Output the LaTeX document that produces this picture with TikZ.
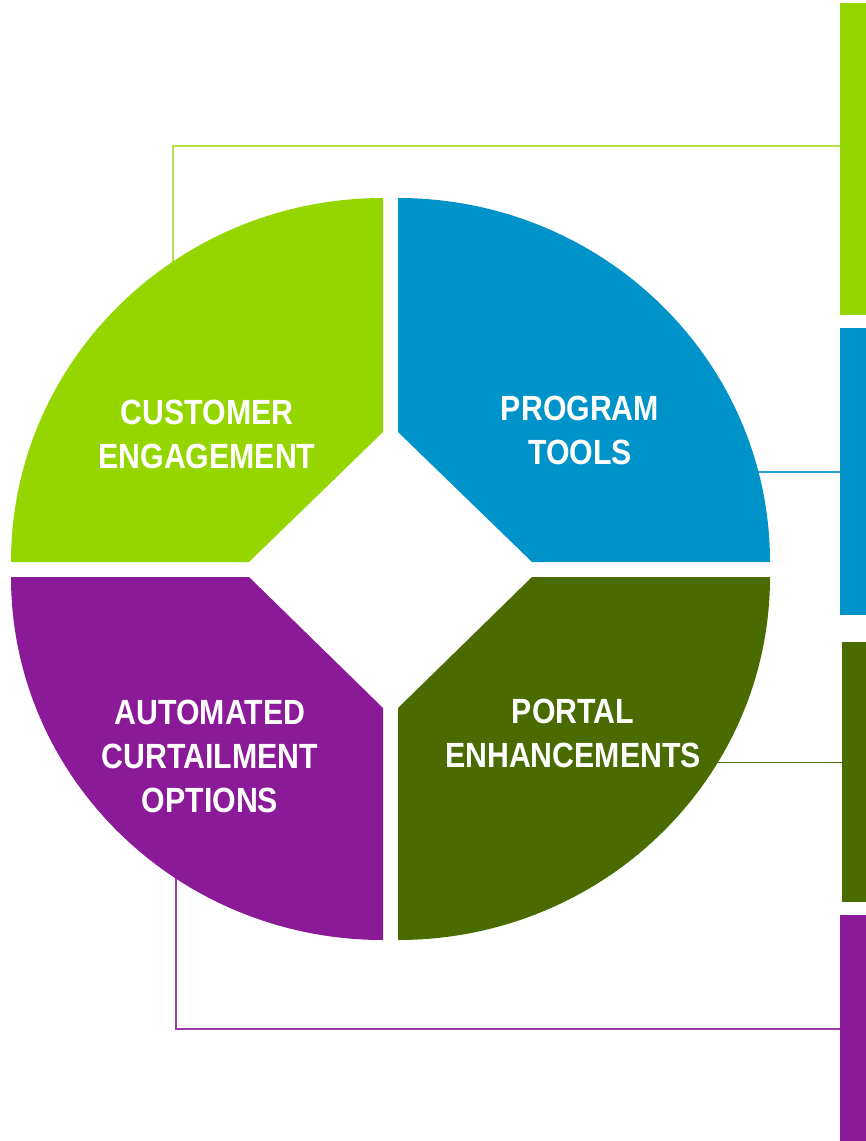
\documentclass[tikz,border=0pt]{standalone}
\usepackage{fontspec}
\newfontfamily\labelfont[FakeStretch=0.865]{Liberation Sans}
\definecolor{lime}{HTML}{96D600}
\definecolor{sky}{HTML}{0093C9}
\definecolor{olive}{HTML}{4A6B00}
\definecolor{plum}{HTML}{8B1A98}
\begin{document}
\begin{tikzpicture}[x=1pt,y=-1pt,
  quadlabel/.style={text=white,align=center,anchor=base,inner sep=0pt,
    font=\labelfont\bfseries\fontsize{35}{44}\selectfont},
  bar/.style={fill=#1,draw=none,anchor=north west,inner sep=0pt},
  link/.style={draw=#1,line width=1.4pt}]
\useasboundingbox[fill=white] (0,0) rectangle (866,1141);

% side bars
\node[bar=lime,minimum width=26pt,minimum height=312pt] (barA) at (840,3) {};
\node[bar=sky,minimum width=26pt,minimum height=287pt] (barB) at (840,328) {};
\node[bar=olive,minimum width=24pt,minimum height=260pt] (barC) at (842,642) {};
\node[bar=plum,minimum width=26pt,minimum height=226pt] (barD) at (840,915) {};

% connector start points (hidden beneath the quadrants)
\coordinate (srcA) at (173,300);
\coordinate (srcB) at (740,472);
\coordinate (srcC) at (700,762);
\coordinate (srcD) at (176,860);
\coordinate (bendA) at (173,146);
\coordinate (bendD) at (176,1029);

\draw[link=lime!70] (srcA) -- (bendA) -- (bendA -| barA.west);
\draw[link=sky!85,line width=1.2pt] (srcB) -- (srcB -| barB.west);
\draw[link=olive,line width=1pt] (srcC) -- (srcC -| barC.west);
\draw[link=plum!85,line width=1.2pt] (srcD) -- (bendD) -- (bendD -| barD.west);

% four quadrants with a diamond cut in the middle
\fill[lime] (383,432) -- (383,198)
  arc[start angle=270,end angle=180,x radius=372,y radius=364]
  -- (249,562) -- cycle;
\fill[sky] (398,432) -- (398,198)
  arc[start angle=270,end angle=360,x radius=372,y radius=364]
  -- (532,562) -- cycle;
\fill[olive] (532,577) -- (770,577)
  arc[start angle=0,end angle=90,x radius=372,y radius=363]
  -- (398,708) -- cycle;
\fill[plum] (383,708) -- (383,940)
  arc[start angle=90,end angle=180,x radius=372,y radius=363]
  -- (249,577) -- cycle;

% labels (anchored at the baseline of the last line)
\node[quadlabel] (lblA) at (207,468) {CUSTOMER\\ENGAGEMENT};
\node[quadlabel] (lblB) at (580,464) {PROGRAM\\TOOLS};
\node[quadlabel] (lblC) at (573,767) {PORTAL\\ENHANCEMENTS};
\node[quadlabel] (lblD) at (210,812) {AUTOMATED\\CURTAILMENT\\OPTIONS};
\end{tikzpicture}
\end{document}
